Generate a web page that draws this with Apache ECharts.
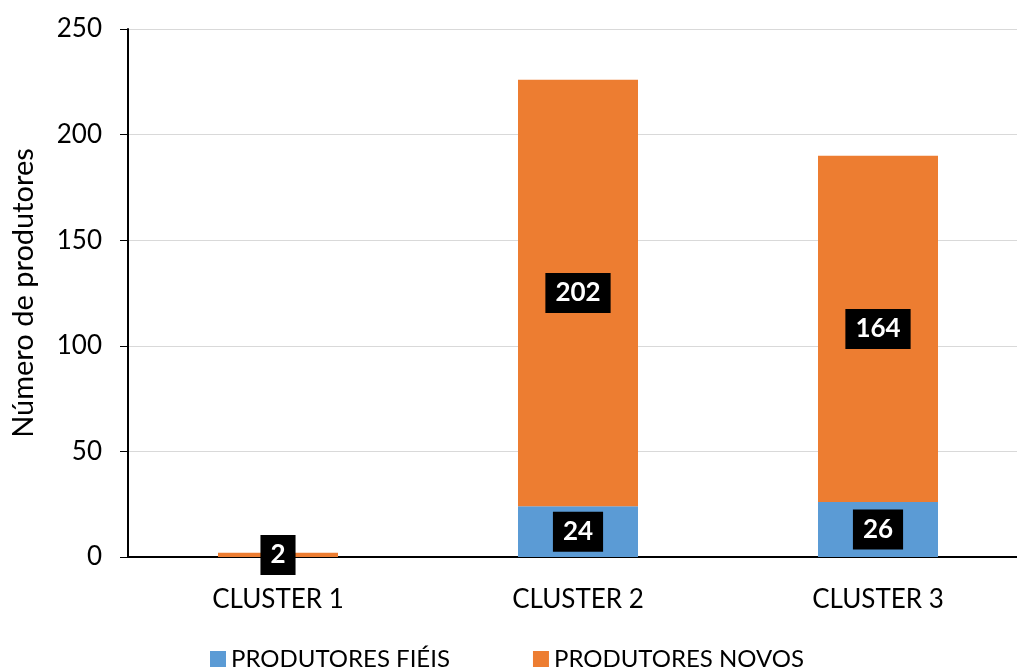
<!DOCTYPE html>
<html>
<head>
<meta charset="utf-8">
<script src="https://cdn.jsdelivr.net/npm/echarts@6/dist/echarts.min.js"></script>
<style>
  html, body { margin: 0; padding: 0; background: #fff; }
  #chart { width: 1017px; height: 671px; }
</style>
</head>
<body>
<div id="chart"></div>
<script>
const categories = ['CLUSTER 1', 'CLUSTER 2', 'CLUSTER 3'];
const fieis = [0, 24, 26];
const novos = [2, 202, 164];
const yTicks = [0, 50, 100, 150, 200, 250];

const chart = echarts.init(document.getElementById('chart'));
const font = 'Lato, "Open Sans", sans-serif';

const barLabel = {
  show: true,
  position: 'inside',
  color: '#fff',
  fontWeight: 'bold',
  fontSize: 26,
  fontFamily: font,
  backgroundColor: '#000',
  padding: [8, 10, 6, 10],
  formatter: p => (p.value ? p.value : '')
};

chart.setOption({
  animation: false,
  textStyle: { fontFamily: font },
  grid: { left: 128, top: 29, width: 900, height: 528, outerBoundsMode: 'none' },
  legend: {
    bottom: -5,
    left: 205,
    itemWidth: 16,
    itemHeight: 16,
    itemGap: 83,
    icon: 'rect',
    textStyle: { fontSize: 24, color: '#000', fontFamily: font },
    data: ['PRODUTORES FIÉIS', 'PRODUTORES NOVOS']
  },
  xAxis: {
    type: 'category',
    data: categories,
    axisLine: { lineStyle: { color: '#000', width: 2 } },
    axisTick: { show: false },
    axisLabel: { color: '#000', fontSize: 26, margin: 30 }
  },
  yAxis: {
    type: 'value',
    min: yTicks[0],
    max: yTicks[yTicks.length - 1],
    interval: 50,
    name: 'Número de produtores',
    nameLocation: 'middle',
    nameGap: 90,
    nameTextStyle: { color: '#000', fontSize: 29 },
    axisLine: { show: true, lineStyle: { color: '#000', width: 2 } },
    axisTick: { show: true, length: 8, lineStyle: { color: '#000' } },
    axisLabel: { color: '#000', fontSize: 26, margin: 26 },
    splitLine: { lineStyle: { color: '#d9d9d9', width: 1 } }
  },
  series: [
    {
      name: 'PRODUTORES FIÉIS',
      type: 'bar',
      stack: 'total',
      barWidth: 120,
      data: fieis,
      itemStyle: { color: '#5b9bd5' },
      label: barLabel
    },
    {
      name: 'PRODUTORES NOVOS',
      type: 'bar',
      stack: 'total',
      barWidth: 120,
      data: novos,
      itemStyle: { color: '#ed7d31' },
      label: barLabel
    }
  ]
});
</script>
</body>
</html>
